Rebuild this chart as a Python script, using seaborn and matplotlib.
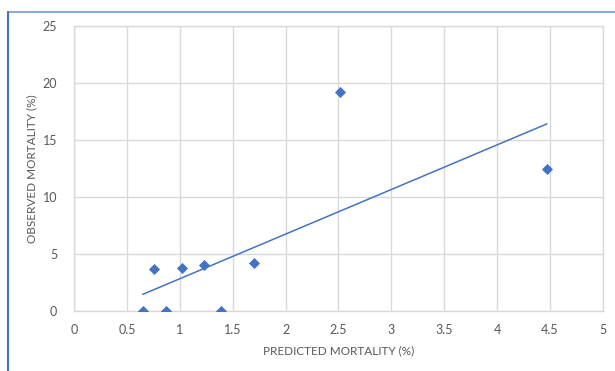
import numpy as np
import pandas as pd
import matplotlib
matplotlib.use("Agg")
import matplotlib.pyplot as plt
from matplotlib.lines import Line2D
import seaborn as sns

# predicted vs observed mortality, with a linear trendline
predicted = [0.65, 0.76, 0.87, 1.02, 1.23, 1.39, 1.70, 2.51, 4.47]
observed = [0.0, 3.7, 0.0, 3.8, 4.0, 0.0, 4.2, 19.2, 12.5]
x_ticks = [0, 0.5, 1, 1.5, 2, 2.5, 3, 3.5, 4, 4.5, 5]
x_labels = ["0", "0.5", "1", "1.5", "2", "2.5", "3", "3.5", "4", "4.5", "5"]
y_ticks = [0, 5, 10, 15, 20, 25]

df = pd.DataFrame({"predicted": predicted, "observed": observed})

sns.set_style("white")
plt.rcParams["font.family"] = ["Lato", "DejaVu Sans"]

blue = "#4472c4"
grey = "#595959"

fig = plt.figure(figsize=(6.15, 3.71), dpi=100)
ax = fig.add_axes([0.1203, 0.1617, 0.8602, 0.7682])

sns.regplot(data=df, x="predicted", y="observed", ci=None, truncate=True,
            marker="D", color=blue,
            scatter_kws={"s": 32, "linewidths": 0, "alpha": 1, "zorder": 3},
            line_kws={"linewidth": 1.1, "zorder": 2}, ax=ax)

ax.set_xlim(0, 5)
ax.set_ylim(0, 25)
ax.set_xticks(x_ticks)
ax.set_xticklabels(x_labels)
ax.set_yticks(y_ticks)
ax.grid(True, color="#d9d9d9", linewidth=1)
ax.set_axisbelow(True)
for s in ax.spines.values():
    s.set_color("#d9d9d9")
    s.set_linewidth(1)
ax.tick_params(axis="both", length=0, labelsize=9, colors=grey, pad=9)
ax.tick_params(axis="y", pad=12)
ax.set_xlabel("PREDICTED MORTALITY (%)", fontsize=8.5, color=grey, labelpad=7)
ax.set_ylabel("OBSERVED MORTALITY (%)", fontsize=8.5, color=grey, labelpad=4)

# chart frame edges (top and left)
fig.add_artist(Line2D([8 / 615, 1], [1 - 11.5 / 371, 1 - 11.5 / 371],
                      transform=fig.transFigure, color="#8eaadb", linewidth=1.5))
fig.add_artist(Line2D([8 / 615, 8 / 615], [0, 1 - 11.5 / 371],
                      transform=fig.transFigure, color="#4472c4", linewidth=1.5))

fig.savefig("out.png", dpi=100)
